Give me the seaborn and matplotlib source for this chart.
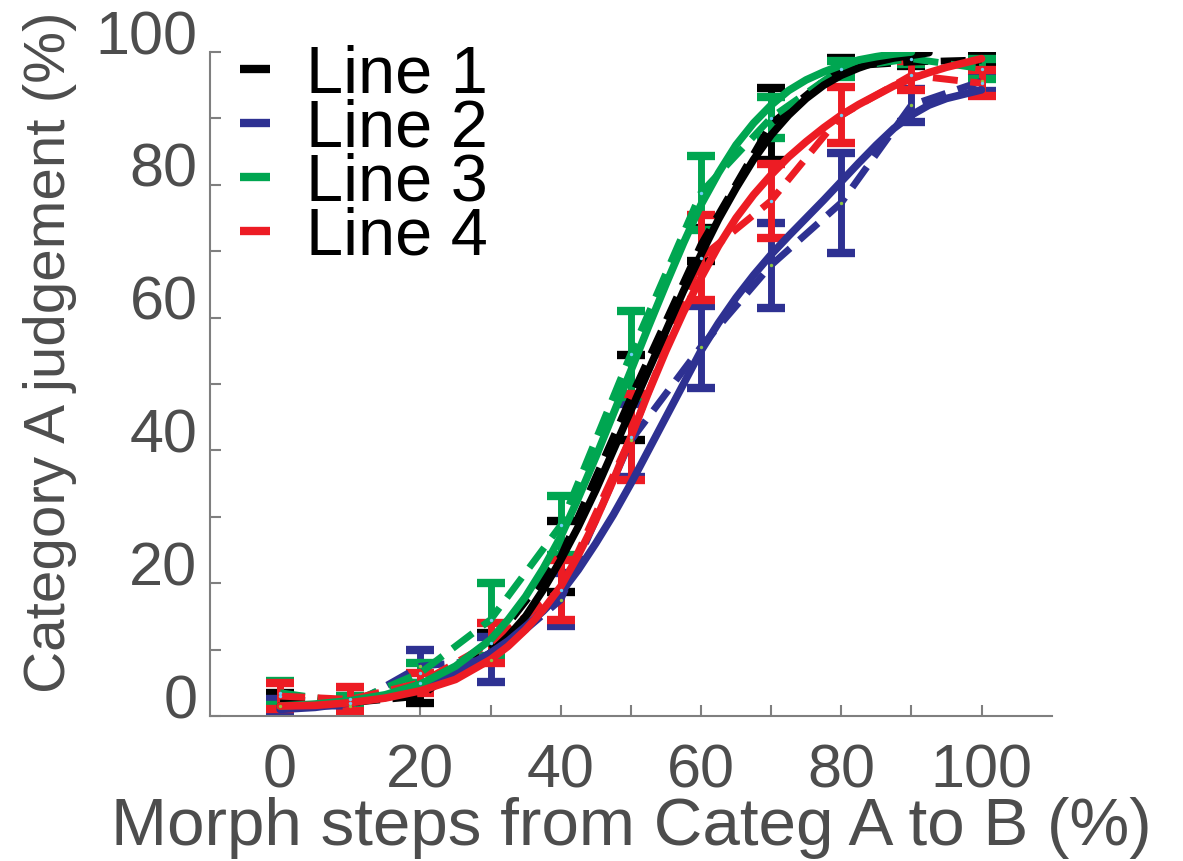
import numpy as np
import pandas as pd
import matplotlib
matplotlib.use("Agg")
import matplotlib.pyplot as plt
import matplotlib.transforms as mtransforms
import seaborn as sns
from matplotlib.lines import Line2D

sns.set_theme(style="white")
plt.rcParams['font.family'] = ['Liberation Sans', 'DejaVu Sans']

# morph steps where judgements were measured
steps = [0, 10, 20, 30, 40, 50, 60, 70, 80, 90, 100]

# measured means (%) and error bar half-widths
black_mean = [2.5, 2.0, 3.0, 10.5, 24.0, 48.0, 71.0, 89.2, 97.8, 98.5, 98.8]
black_err = [1.0, 0.8, 1.0, 2.0, 5.3, 6.4, 2.5, 5.4, 1.3, 0.6, 1.0]
blue_mean = [1.5, 1.5, 7.5, 8.5, 17.5, 41.5, 55.6, 67.9, 77.3, 92.0, 95.6]
blue_err = [1.0, 1.5, 2.5, 3.4, 4.0, 5.5, 6.2, 6.4, 7.5, 2.5, 1.5]
green_mean = [3.5, 2.0, 6.5, 14.5, 28.7, 54.5, 78.8, 90.1, 97.5, 99.0, 97.5]
green_err = [1.8, 1.0, 1.5, 5.5, 4.5, 6.5, 5.6, 3.1, 1.2, 0.8, 1.5]
red_mean = [3.0, 2.5, 5.0, 11.0, 19.0, 42.0, 69.0, 77.6, 90.5, 96.5, 95.3]
red_err = [2.0, 1.8, 1.5, 3.0, 4.5, 6.5, 6.4, 5.6, 4.2, 2.2, 2.0]

# fitted curves
fit_x = [0, 5, 10, 15, 20, 25,
         30, 32.5, 35, 37.5, 40, 42.5, 45, 47.5, 50, 52.5, 55, 57.5, 60, 62.5,
         65, 67.5, 70, 72.5, 75, 77.5, 80, 82.5, 85, 87.5, 90,
         92.5, 95, 100]
black_fit = [1.5, 1.7, 2.0, 2.8, 4.0, 6.0,
             9.5, 12, 15, 19, 23.5, 28.5, 34, 40, 46, 52, 58, 64, 69.5, 74.8,
             79.5, 83.8, 87.5, 90.5, 93, 95, 96.5, 97.6, 98.5, 99.1, 99.5,
             99.9, np.nan, np.nan]
blue_fit = [1.0, 1.3, 2.0, 3.0, 4.5, 6.5,
            9.5, 11.3, 13.5, 15.8, 18.5, 22, 26, 30.3, 35, 40, 45, 50, 55, 59.2,
            63, 66.4, 69.5, 72.3, 75, 77.7, 80.5, 83.3, 86, 88.5, 90.5,
            92, 93, 94.3]
green_fit = [1.5, 1.8, 2.3, 3.2, 4.8, 7.5,
             11.5, 14.5, 18, 22.2, 27, 32.8, 39, 45.5, 52, 58.6, 65, 71.2, 77, 81.8,
             86, 89.3, 92, 94.2, 95.8, 97, 98, 98.8, 99.3, 99.7, 100,
             np.nan, np.nan, np.nan]
red_fit = [1.5, 1.6, 2.0, 2.7, 3.8, 5.5,
           8.5, 10.5, 13, 16, 19.5, 24.2, 29.5, 35.5, 42, 48.7, 55, 60.8, 66, 70.8,
           75, 78.5, 81.5, 84.2, 86.5, 88.6, 90.5, 92.1, 93.5, 94.9, 96,
           96.9, 97.7, 99.0]

labels = ['Line 1', 'Line 2', 'Line 3', 'Line 4']
colors = ['#000000', '#2E3192', '#00A651', '#ED1C24']
dot_colors = [None, '#8DC63F', '#6DCFF6', '#6DCFF6']
means = [black_mean, blue_mean, green_mean, red_mean]
errs = [black_err, blue_err, green_err, red_err]
fits = [black_fit, blue_fit, green_fit, red_fit]

fig = plt.figure(figsize=(11.83, 8.61), dpi=100)
ax = fig.add_axes([0.1775, 0.1684, 0.7115, 0.7712])

for lab, col, dcol, m, e, f in zip(labels, colors, dot_colors, means, errs, fits):
    ax.errorbar(steps, m, yerr=e, fmt='none', ecolor=col, elinewidth=5,
                capsize=10, capthick=6, zorder=2)
    sns.lineplot(x=steps, y=m, color=col, lw=5, ax=ax, zorder=3,
                 estimator=None, sort=False)
    ax.lines[-1].set_dashes([3.6, 1.8])
    ax.lines[-1].set_dash_capstyle('butt')
    fit_df = pd.DataFrame({'x': fit_x, 'y': f}).dropna()
    sns.lineplot(data=fit_df, x='x', y='y', color=col, lw=5.5, ax=ax, zorder=4,
                 estimator=None, sort=False)
    if dcol is not None:
        ax.scatter(steps, m, s=6, color=dcol, zorder=5, linewidths=0)

ax.set_xlim(-10, 110)
ax.set_ylim(0, 100)
ax.set_xticks([0, 20, 40, 60, 80, 100])
ax.set_yticks([0, 20, 40, 60, 80, 100])
ax.set_xticks(range(10, 101, 20), minor=True)
ax.set_yticks(range(10, 100, 20), minor=True)

tick_col = '#4D4D4D'
ax.tick_params(axis='both', which='both', direction='in', length=8, width=1.5,
               color='#7F7F7F', labelcolor=tick_col, labelsize=44)
ax.tick_params(axis='x', which='both', pad=20)
ax.tick_params(axis='y', which='both', pad=9)
ax.tick_params(bottom=True, left=True, which='both')

# y tick labels sit a little above their ticks in the original
shift = mtransforms.ScaledTranslation(0, 20 / 100, fig.dpi_scale_trans)
for lbl in ax.get_yticklabels():
    lbl.set_transform(lbl.get_transform() + shift)

for side in ['top', 'right']:
    ax.spines[side].set_visible(False)
for side in ['left', 'bottom']:
    ax.spines[side].set_color('#7F7F7F')
    ax.spines[side].set_linewidth(1.5)

ax.set_xlabel('Morph steps from Categ A to B (%)', fontsize=48.5, color=tick_col, labelpad=-3)
ax.set_ylabel('Category A judgement (%)', fontsize=42, color=tick_col)
ax.yaxis.set_label_coords(-0.158, 0.548)

handles = [Line2D([0], [0], color=c, lw=6, solid_capstyle='butt') for c in colors]
leg = ax.legend(handles, labels, loc='upper left', bbox_to_anchor=(0.036, 1.012),
                frameon=False, fontsize=48, handlelength=0.45, handletextpad=0.53,
                labelspacing=-0.12, borderaxespad=0, borderpad=0)
for t in leg.get_texts():
    t.set_color('black')

fig.savefig('out.png', dpi=100)
